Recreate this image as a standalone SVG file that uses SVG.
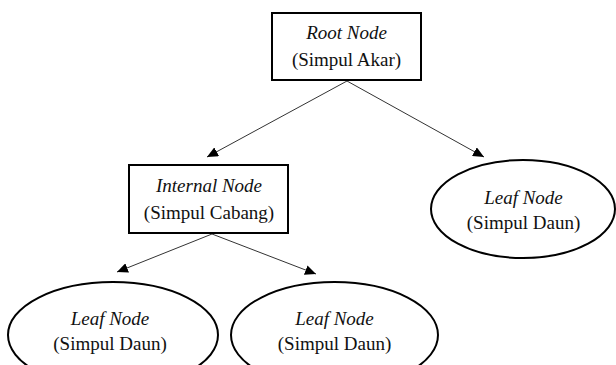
<svg xmlns="http://www.w3.org/2000/svg" width="616" height="365" viewBox="0 0 616 365">
<style>
.box{fill:#fff;stroke:#000;stroke-width:2}
.leaf{fill:#fff;stroke:#000;stroke-width:2}
.edge{stroke:#333;stroke-width:1;fill:none;marker-end:url(#arr)}
text{font-family:"Liberation Serif","Times New Roman",serif;font-size:19px;fill:#111;text-anchor:middle}
.it{font-style:italic}
</style>
<defs>
<marker id="arr" markerUnits="userSpaceOnUse" markerWidth="11" markerHeight="10" refX="11" refY="5" orient="auto">
<path d="M0,0 L11,5 L0,10 z" fill="#000"/>
</marker>
</defs>
<rect width="616" height="365" fill="#fff"/>
<g id="connectors">
<line class="edge" x1="347" y1="81" x2="207" y2="157"/>
<line class="edge" x1="347" y1="81" x2="484" y2="157"/>
<line class="edge" x1="212" y1="234" x2="117" y2="272"/>
<line class="edge" x1="212" y1="234" x2="316" y2="274"/>
</g>
<g id="root">
<rect class="box" x="272" y="13" width="149" height="67"/>
<text class="it" x="346.5" y="39">Root Node</text>
<text x="346.5" y="66">(Simpul Akar)</text>
</g>
<g id="internal">
<rect class="box" x="129" y="165" width="159" height="68"/>
<text class="it" x="209" y="192">Internal Node</text>
<text x="209" y="219">(Simpul Cabang)</text>
</g>
<g id="leaf-right">
<ellipse class="leaf" cx="523" cy="209" rx="92" ry="49"/>
<text class="it" x="523.5" y="204">Leaf Node</text>
<text x="523.5" y="229">(Simpul Daun)</text>
</g>
<g id="leaf-left">
<ellipse class="leaf" cx="113" cy="335" rx="105" ry="53"/>
<text class="it" x="110" y="325">Leaf Node</text>
<text x="110" y="350">(Simpul Daun)</text>
</g>
<g id="leaf-mid">
<ellipse class="leaf" cx="334.5" cy="335" rx="103.5" ry="53"/>
<text class="it" x="334.5" y="325">Leaf Node</text>
<text x="334.5" y="350">(Simpul Daun)</text>
</g>
</svg>
